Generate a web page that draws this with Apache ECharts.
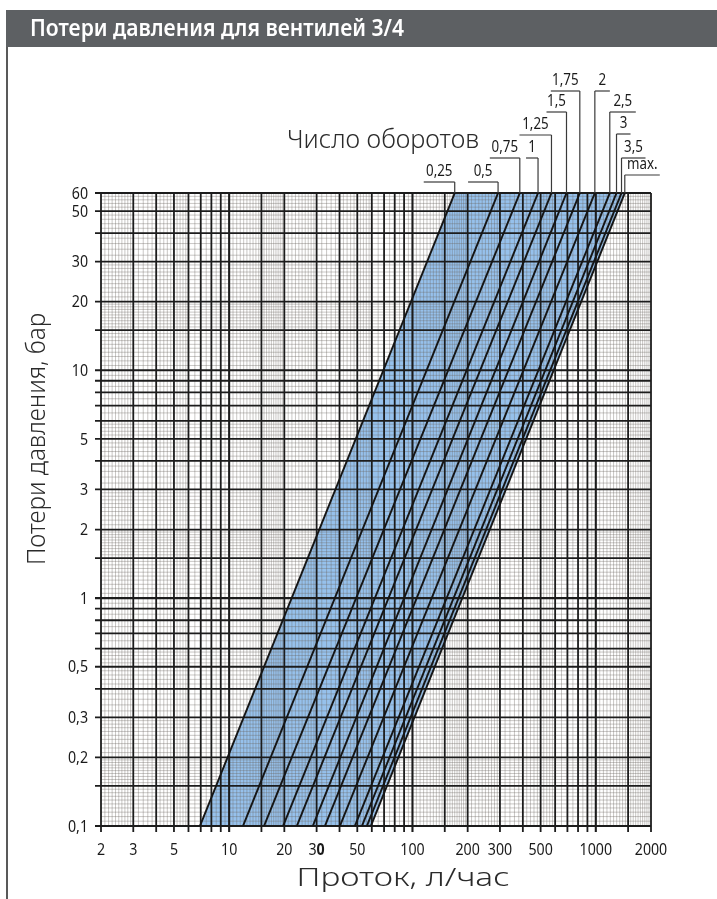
<!DOCTYPE html>
<html>
<head>
<meta charset="utf-8">
<script src="https://cdn.jsdelivr.net/npm/echarts@6/dist/echarts.min.js"></script>
<style>
html,body{margin:0;padding:0;background:#fff;}
#chart{width:717px;height:899px;}
</style>
</head>
<body>
<div id="chart"></div>
<script>
// ---------------- data ----------------
const turnLabels = ['0,25','0,5','0,75','1','1,25','1,5','1,75','2','2,5','3','3,5','max.'];
// flow (l/h) where each characteristic crosses 0.1 bar and 60 bar
const flowAtMinPressure = [6.93, 11.9, 15.5, 19.7, 23.4, 28.6, 33.3, 40.2, 48.5, 53.0, 56.4, 59.3];
const flowAtMaxPressure = [170, 293, 385, 484, 573, 692, 818, 988, 1192, 1297, 1381, 1439];

const xTickValues = [2, 3, 5, 10, 20, 30, 50, 100, 200, 300, 500, 1000, 2000];
const xTickLabels = ['2','3','5','10','20','30','50','100','200','300','500','1000','2000'];
const yTickValues = [0.1, 0.2, 0.3, 0.5, 1, 2, 3, 5, 10, 20, 30, 50, 60];
const yTickLabels = ['0,1','0,2','0,3','0,5','1','2','3','5','10','20','30','50','60'];

const X_MIN = 2, X_MAX = 2000, Y_MIN = 0.1, Y_MAX = 60;

// log-paper grid pattern (per decade)
const gridMajorMultipliers = [1, 1.5, 2, 3, 4, 5, 6, 7, 8, 9];
const gridMinorSpans = [[1, 2, 0.05], [2, 3, 0.1], [3, 6, 0.2], [6, 10, 0.5]];
const gridDecades = [0.1, 1, 10, 100, 1000];

// ---------------- layout / style ----------------
// label stack above the plot: rise = px above plot top, side -1 = underline left of leader
const turnLabelLayout = [
  {rise: 11, side: -1, len: 31},
  {rise: 11, side: -1, len: 30},
  {rise: 35, side: -1, len: 30},
  {rise: 35, side: -1, len: 12},
  {rise: 58, side: -1, len: 32},
  {rise: 81, side: -1, len: 20},
  {rise: 102, side: -1, len: 29},
  {rise: 102, side: 1, len: 15},
  {rise: 81, side: 1, len: 26},
  {rise: 59, side: 1, len: 14},
  {rise: 35, side: 1, len: 24},
  {rise: 18, side: 1, len: 35}
];
const FONT = "'Noto Sans', 'DejaVu Sans', sans-serif";
const TICK_FONT = "16.5px " + FONT;
const TICK_SCALE = 0.86;
const BAND_COLOR = '#96c1ec';
const THIN_COLOR = 'rgba(105,100,95,0.36)';
const THICK_COLOR = '#1c1c1c';

function buildGrid(lo, hi) {
  const major = [], minor = [];
  gridDecades.forEach(d => {
    gridMajorMultipliers.forEach(m => {
      const v = +(m * d).toPrecision(6);
      if (v >= lo - 1e-9 && v <= hi + 1e-9) major.push(v);
    });
    gridMinorSpans.forEach(([a, b, s]) => {
      const n = Math.round((b - a) / s);
      for (let k = 1; k < n; k++) {
        const m = +(a + k * s).toPrecision(6);
        if (gridMajorMultipliers.some(x => Math.abs(x - m) < 1e-9)) continue;
        const v = +(m * d).toPrecision(6);
        if (v > lo && v < hi) minor.push(v);
      }
    });
  });
  return {major, minor};
}
const xGrid = buildGrid(X_MIN, X_MAX);
const yGrid = buildGrid(Y_MIN, Y_MAX);
function isDecade(v) { const l = Math.log10(v); return Math.abs(l - Math.round(l)) < 1e-9; }

// measure text to condense generic fonts to reference widths
const measureCtx = document.createElement('canvas').getContext('2d');
function fitScale(text, font, width) {
  measureCtx.font = font;
  return width / measureCtx.measureText(text).width;
}

function vLineRenderer(isMajor) {
  return function (params, api) {
    const v = api.value(0);
    const a = api.coord([v, Y_MIN]);
    const b = api.coord([v, Y_MAX]);
    return {
      type: 'line',
      shape: {x1: a[0], y1: a[1] + (isMajor ? 6 : 0), x2: b[0], y2: b[1]},
      style: {stroke: isMajor ? THICK_COLOR : THIN_COLOR, lineWidth: isMajor ? (isDecade(v) ? 2.1 : 1.8) : 1}
    };
  };
}
function hLineRenderer(isMajor) {
  return function (params, api) {
    const v = api.value(1);
    const a = api.coord([X_MIN, v]);
    const b = api.coord([X_MAX, v]);
    return {
      type: 'line',
      shape: {x1: a[0] - (isMajor ? 6 : 0), y1: a[1], x2: b[0], y2: b[1]},
      style: {stroke: isMajor ? THICK_COLOR : THIN_COLOR, lineWidth: isMajor ? (isDecade(v) ? 2.1 : 1.8) : 1}
    };
  };
}

const baseCustom = {type: 'custom', coordinateSystem: 'cartesian2d', silent: true, animation: false, clip: false, encode: {x: 0, y: 1}};

const series = [];
// blue band between first and last characteristic
series.push(Object.assign({}, baseCustom, {
  z: 1,
  data: [[flowAtMinPressure[0], Y_MIN]],
  renderItem: function (params, api) {
    const last = flowAtMinPressure.length - 1;
    const pts = [
      api.coord([flowAtMinPressure[0], Y_MIN]),
      api.coord([flowAtMaxPressure[0], Y_MAX]),
      api.coord([flowAtMaxPressure[last], Y_MAX]),
      api.coord([flowAtMinPressure[last], Y_MIN])
    ];
    return {type: 'polygon', shape: {points: pts}, style: {fill: BAND_COLOR}};
  }
}));
series.push(Object.assign({}, baseCustom, {z: 2, data: xGrid.minor.map(v => [v, Y_MIN]), renderItem: vLineRenderer(false)}));
series.push(Object.assign({}, baseCustom, {z: 2, data: yGrid.minor.map(v => [X_MIN, v]), renderItem: hLineRenderer(false)}));
series.push(Object.assign({}, baseCustom, {z: 3, data: xGrid.major.map(v => [v, Y_MIN]), renderItem: vLineRenderer(true)}));
series.push(Object.assign({}, baseCustom, {z: 3, data: yGrid.major.map(v => [X_MIN, v]), renderItem: hLineRenderer(true)}));

// characteristics
turnLabels.forEach((name, i) => {
  series.push({
    type: 'line', name: name, silent: true, animation: false, symbol: 'none', z: 5,
    data: [[flowAtMinPressure[i], Y_MIN], [flowAtMaxPressure[i], Y_MAX]],
    lineStyle: {color: '#151515', width: 2}
  });
});

// x tick labels
series.push(Object.assign({}, baseCustom, {
  z: 6,
  data: xTickValues.map(v => [v, Y_MIN]),
  renderItem: function (params, api) {
    const p = api.coord([api.value(0), Y_MIN]);
    const lbl = xTickLabels[params.dataIndex];
    const style = {text: lbl, font: TICK_FONT, fill: '#1a1a1a', align: 'center', verticalAlign: 'middle'};
    if (lbl === '30') {
      style.text = '{n|3}{b|0}';
      style.rich = {n: {font: TICK_FONT, fill: '#1a1a1a'}, b: {font: 'bold ' + TICK_FONT, fill: '#1a1a1a'}};
    }
    return {type: 'text', x: p[0], y: p[1] + 24, scaleX: TICK_SCALE, style: style};
  }
}));
// y tick labels
series.push(Object.assign({}, baseCustom, {
  z: 6,
  data: yTickValues.map(v => [X_MIN, v]),
  renderItem: function (params, api) {
    const p = api.coord([X_MIN, api.value(1)]);
    return {type: 'text', x: p[0] - 13, y: p[1] + 1, scaleX: TICK_SCALE,
      style: {text: yTickLabels[params.dataIndex], font: TICK_FONT, fill: '#1a1a1a', align: 'right', verticalAlign: 'middle'}};
  }
}));
// turn labels with leader lines
series.push(Object.assign({}, baseCustom, {
  z: 6,
  data: flowAtMaxPressure.map(v => [v, Y_MAX]),
  renderItem: function (params, api) {
    const i = params.dataIndex;
    const L = turnLabelLayout[i];
    const p = api.coord([api.value(0), Y_MAX]);
    const x = p[0], top = p[1], yU = top - L.rise;
    const x0 = L.side < 0 ? x - L.len : x;
    const x1 = L.side < 0 ? x : x + L.len;
    return {
      type: 'group',
      children: [
        {type: 'line', shape: {x1: x, y1: top, x2: x, y2: yU}, style: {stroke: '#3a3a3a', lineWidth: 1.2}},
        {type: 'line', shape: {x1: x0, y1: yU, x2: x1, y2: yU}, style: {stroke: '#3a3a3a', lineWidth: 1.2}},
        {type: 'text', x: (x0 + x1) / 2, y: yU - 2, scaleX: TICK_SCALE,
          style: {text: turnLabels[i], font: '15.5px ' + FONT, fill: '#1a1a1a', align: 'center', verticalAlign: 'bottom'}}
      ]
    };
  }
}));

const TITLE_FONT = '600 23px ' + FONT;
const TITLE_TEXT = 'Потери давления для вентилей 3/4';
const AX_FONT = '300 25px ' + FONT;
const T1 = 'Число оборотов', T2 = 'Потери давления, бар', T3 = 'Проток, л/час';

const chart = echarts.init(document.getElementById('chart'), null, {renderer: 'canvas'});
chart.setOption({
  animation: false,
  backgroundColor: '#ffffff',
  grid: {left: 101, top: 193, width: 550, height: 633, containLabel: false, show: false},
  xAxis: {type: 'log', logBase: 10, min: X_MIN, max: X_MAX, axisLine: {show: false}, axisTick: {show: false}, axisLabel: {show: false}, splitLine: {show: false}},
  yAxis: {type: 'log', logBase: 10, min: Y_MIN, max: Y_MAX, axisLine: {show: false}, axisTick: {show: false}, axisLabel: {show: false}, splitLine: {show: false}},
  graphic: [
    {type: 'rect', left: 6, top: 10, shape: {width: 711, height: 37}, style: {fill: '#5d6063'}, silent: true},
    {type: 'line', shape: {x1: 7, y1: 47, x2: 7, y2: 899}, style: {stroke: '#222', lineWidth: 1.5}, silent: true},
    {type: 'text', x: 30, y: 29, scaleX: fitScale(TITLE_TEXT, TITLE_FONT, 374), silent: true,
      style: {text: TITLE_TEXT, font: TITLE_FONT, fill: '#ffffff', align: 'left', verticalAlign: 'middle'}},
    {type: 'text', x: 287, y: 141, scaleX: fitScale(T1, AX_FONT, 192), silent: true,
      style: {text: T1, font: AX_FONT, fill: '#2b2b2b', align: 'left', verticalAlign: 'middle'}},
    {type: 'text', x: 38, y: 439, rotation: Math.PI / 2, scaleX: fitScale(T2, AX_FONT, 252), silent: true,
      style: {text: T2, font: AX_FONT, fill: '#2b2b2b', align: 'center', verticalAlign: 'middle'}},
    {type: 'text', x: 403, y: 879, scaleX: fitScale(T3, '300 26px ' + FONT, 213), silent: true,
      style: {text: T3, font: '300 26px ' + FONT, fill: '#2b2b2b', align: 'center', verticalAlign: 'middle'}}
  ],
  series: series
});
</script>
</body>
</html>
